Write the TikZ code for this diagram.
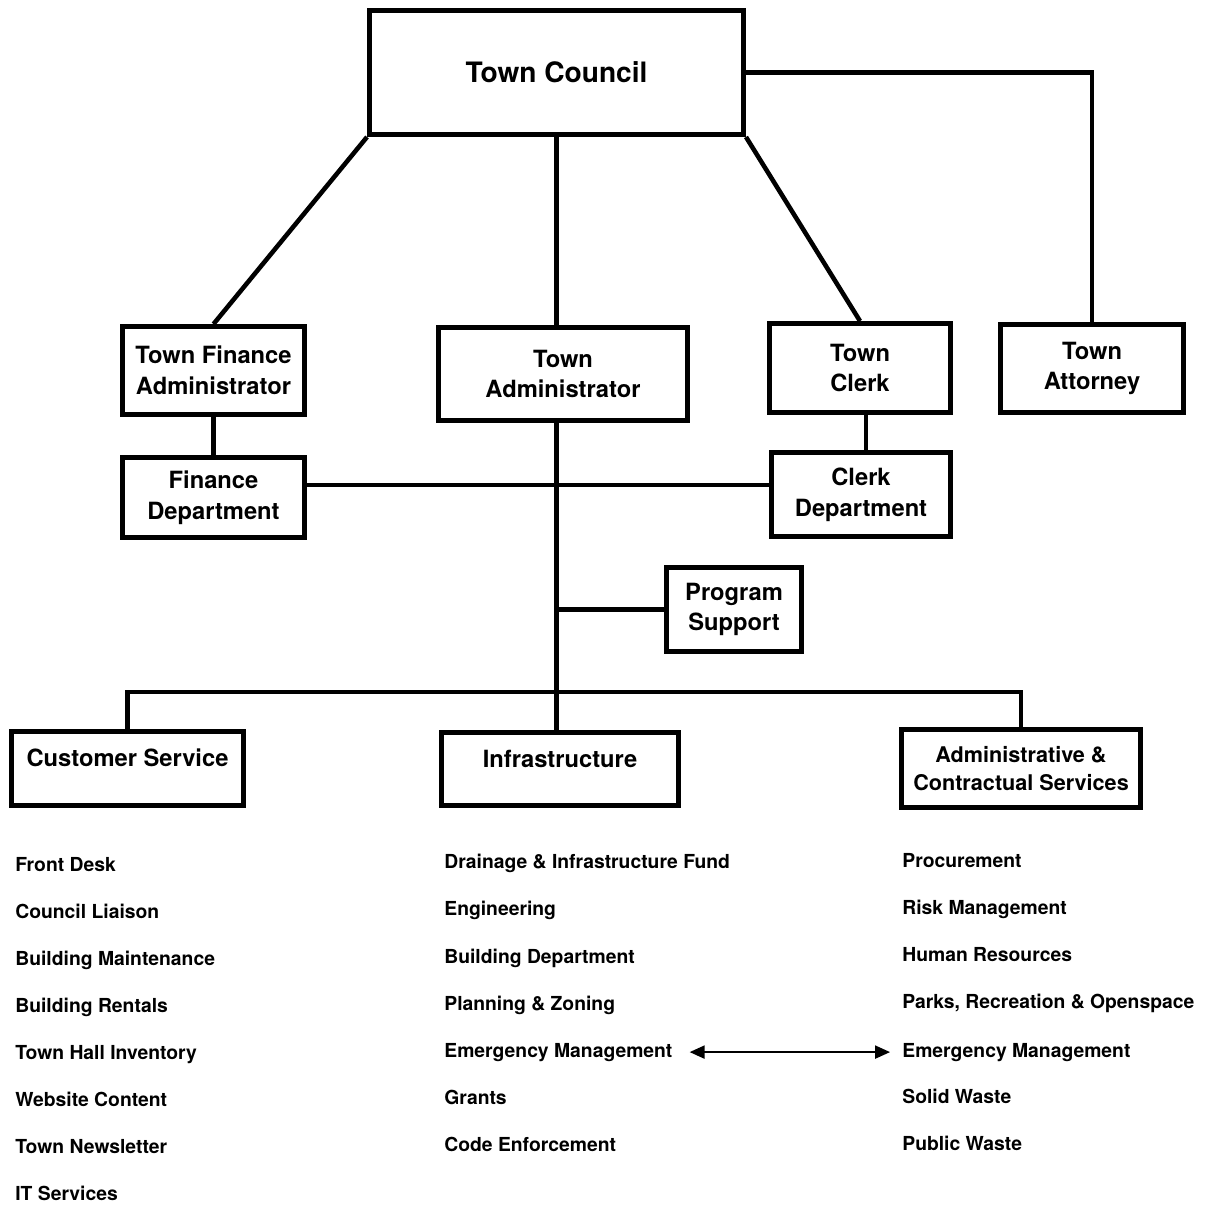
\documentclass[tikz,border=0pt]{standalone}
\usepackage{fontspec}
\setmainfont{TeX Gyre Heros}
\usepackage{tikz}
\usetikzlibrary{positioning,arrows.meta}

\begin{document}
\begin{tikzpicture}[
    x=0.02cm, y=-0.02cm,
    box/.style={rectangle, draw, line width=2.8pt, align=center, inner sep=0pt, font=\fontsize{13.5}{17.5}\selectfont\bfseries},
    boxsize/.style 2 args={minimum width=#1*0.02cm, minimum height=#2*0.02cm},
    unit/.style={box, text height=20pt, text depth=21.8pt},
    item/.style={anchor=base west, inner sep=0pt, font=\fontsize{11}{13}\selectfont\bfseries},
    link/.style={line width=2.6pt},
]
    \useasboundingbox (0,0) rectangle (1209,1205);

    \node[box, boxsize={374}{124}, font=\fontsize{16}{19}\selectfont\bfseries] (council) at (556.5, 72.5) {Town Council};
    \node[box, boxsize={182}{88}] (tfa) at (213.5, 370.5) {Town Finance\\Administrator};
    \node[box, boxsize={249}{93}] (tadmin) at (563, 374) {Town\\Administrator};
    \node[box, boxsize={181}{89}] (tclerk) at (860, 368) {Town\\Clerk};
    \node[box, boxsize={183}{88}] (tatty) at (1092, 368.5) {Town\\Attorney};
    \node[box, boxsize={182}{80}] (findept) at (213.5, 497.5) {Finance\\Department};
    \node[box, boxsize={179}{84}] (clerkdept) at (861, 494.5) {Clerk\\Department};
    \node[box, boxsize={135}{84}] (progsup) at (734, 609.5) {Program\\Support};
    \node[unit, boxsize={232}{10}] (custsvc) at (127.5, 768.5) {Customer Service};
    \node[unit, boxsize={237}{10}] (infra) at (560, 769) {Infrastructure};
    \node[box, boxsize={239}{78}, font=\fontsize{12.3}{16.3}\selectfont\bfseries] (admsvc) at (1021, 768.5) {Administrative \&\\Contractual Services};

    % reporting lines
    \draw[link] (council.south west) -- (tfa.north);
    \draw[link] (council.south) -- (council.south |- tadmin.north);
    \draw[link] (council.south east) -- (tclerk.north);
    \draw[link] (council.east) -- (tatty.north |- council.east) -- (tatty.north);
    \draw[link] (tfa.south) -- (findept.north);
    \draw[link] (tclerk.south -| 866,0) -- (clerkdept.north -| 866,0);
    \draw[link] (findept.east |- 0,485) -- (clerkdept.west |- 0,485);
    \draw[link] (council.south |- tadmin.south) -- (council.south |- infra.north);
    \draw[link] (progsup.west) -- (progsup.west -| council.south);
    \draw[link] (custsvc.north) -- (custsvc.north |- 0,692) -- (admsvc.north |- 0,692) -- (admsvc.north);

    % customer service
    \node[item] (cs1) at (15, 871) {Front Desk};
    \node[item] (cs2) at (15, 918) {Council Liaison};
    \node[item] (cs3) at (15, 965) {Building Maintenance};
    \node[item] (cs4) at (15, 1012) {Building Rentals};
    \node[item] (cs5) at (15, 1059) {Town Hall Inventory};
    \node[item] (cs6) at (15, 1106) {Website Content};
    \node[item] (cs7) at (15, 1153) {Town Newsletter};
    \node[item] (cs8) at (15, 1200) {IT Services};

    % infrastructure
    \node[item] (inf1) at (444, 868) {Drainage \& Infrastructure Fund};
    \node[item] (inf2) at (444, 915) {Engineering};
    \node[item] (inf3) at (444, 963) {Building Department};
    \node[item] (inf4) at (444, 1010) {Planning \& Zoning};
    \node[item] (inf5) at (444, 1057) {Emergency Management};
    \node[item] (inf6) at (444, 1104) {Grants};
    \node[item] (inf7) at (444, 1151) {Code Enforcement};

    % administrative & contractual
    \node[item] (adm1) at (902, 867) {Procurement};
    \node[item] (adm2) at (902, 914) {Risk Management};
    \node[item] (adm3) at (902, 961) {Human Resources};
    \node[item] (adm4) at (902, 1008) {Parks, Recreation \& Openspace};
    \node[item] (adm5) at (902, 1057) {Emergency Management};
    \node[item] (adm6) at (902, 1103) {Solid Waste};
    \node[item] (adm7) at (902, 1150) {Public Waste};

    \draw[line width=1.1pt, {Triangle[length=8.5pt,width=7.4pt]}-{Triangle[length=8.5pt,width=7.4pt]}, shorten <=9.6pt, shorten >=6.8pt] (inf5.east) -- (adm5.west);
\end{tikzpicture}
\end{document}
